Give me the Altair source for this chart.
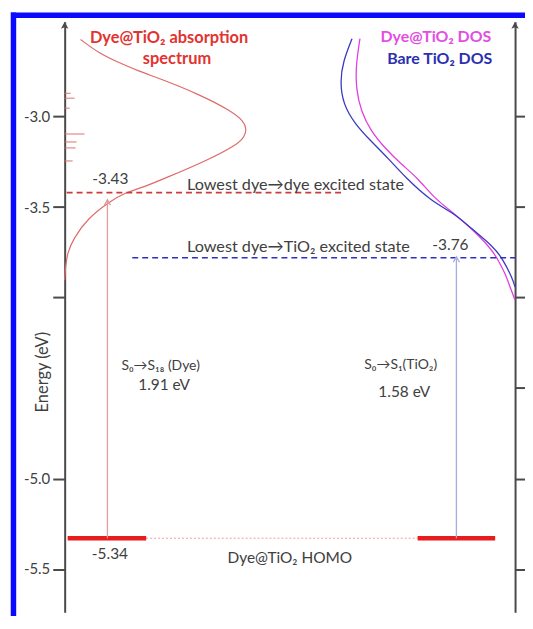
import altair as alt
import pandas as pd

# ---------------- data ----------------
E_DOMAIN = [-5.739, -2.4753]          # energy axis (eV)
X_DOMAIN = [0, 453]                   # horizontal position (a.u.)
TICKS_LEFT = [-3.0, -3.5, -4.0, -5.0, -5.5]
TICKS_RIGHT = [-3.0, -3.5, -4.0, -4.5, -5.0, -5.5]

# Dye@TiO2 absorption spectrum (intensity a.u. vs energy eV)
abs_int = [16, 35, 52, 75, 95, 135, 168, 180, 183, 181, 175, 142, 102, 78, 61, 45, 23, 9, 3, 1, 0]
abs_E = [-2.574, -2.651, -2.695, -2.750, -2.788, -2.876, -2.970, -3.025, -3.069, -3.107, -3.151,
         -3.245, -3.338, -3.393, -3.420, -3.470, -3.563, -3.673, -3.750, -3.821, -3.904]

# stick spectrum (oscillator strengths)
stick_E = [-2.871, -2.898, -2.953, -3.096, -3.140, -3.173, -3.245]
stick_f = [6, 10, 5, 20, 12, 11, 8]

# DOS curves
dos_dye_x = [297, 293, 293, 298, 308, 322, 338, 355, 372, 392, 408, 428, 435, 443, 448, 453]
dos_dye_E = [-2.569, -2.712, -2.843, -2.970, -3.080, -3.173, -3.261, -3.338, -3.453, -3.536,
             -3.613, -3.723, -3.783, -3.865, -3.942, -4.014]
dos_bare_x = [289, 280, 277, 280, 292, 308, 325, 343, 368, 392, 408, 432, 440, 450, 453]
dos_bare_E = [-2.569, -2.695, -2.805, -2.931, -3.041, -3.135, -3.228, -3.338, -3.464, -3.536,
              -3.613, -3.723, -3.783, -3.887, -3.942]

# energy levels
E_DYE = -3.42
E_TIO2 = -3.78
E_HOMO = -5.33

# level segments (x start, x end)
dye_dash = [2, 278]
tio2_dash = [68, 453]
homo_dot = [82, 355]
homo_bars_x1 = [3, 355]
homo_bars_x2 = [82, 433]

# transitions
arrow_x = [43, 394]
arrow_top = [-3.46, -3.775]
arrow_col = ["#e39a9a", "#a9a9e6"]

# annotations
t_bold_c = ["Dye@TiO\u2082 absorption", "spectrum"]
t_bold_c_x = [105, 113]
t_bold_c_E = [-2.567, -2.684]

t_bold_r = ["Dye@TiO\u2082 DOS", "Bare TiO\u2082 DOS"]
t_bold_r_x = [429, 430]
t_bold_r_E = [-2.558, -2.680]
t_bold_r_c = ["#e24fe0", "#2b2fb0"]

t_left = ["Lowest dye\u2192dye excited state", "Lowest dye\u2192TiO\u2082 excited state"]
t_left_x = [123, 123]
t_left_E = [-3.376, -3.721]

t_cen = ["-3.43", "-3.76", "1.91 eV", "1.58 eV", "-5.34", "Dye@TiO\u2082 HOMO"]
t_cen_x = [46, 388, 100, 341.5, 45.5, 226.5]
t_cen_E = [-3.343, -3.712, -4.481, -4.521, -5.415, -5.442]

t_trans = ["S\u2080\u2192S\u2081\u2088 (Dye)", "S\u2080\u2192S\u2081(TiO\u2082)"]
t_trans_x = [96.5, 338]
t_trans_E = [-4.380, -4.375]

FONT = "Lato"
GRAY = "#404040"
AXIS_C = "#4a4a4a"
FRAME_C = "#0a0aff"

xs = alt.Scale(domain=X_DOMAIN, nice=False, zero=False)
ys = alt.Scale(domain=E_DOMAIN, nice=False, zero=False)


def X(f="x"):
    return alt.X(f"{f}:Q", scale=xs, axis=None)


def Y(f="E", axis=None):
    return alt.Y(f"{f}:Q", scale=ys, axis=axis)


left_axis = alt.Axis(
    values=TICKS_LEFT, orient="left", grid=False,
    labelExpr="datum.value == -4 ? '' : '-' + format(-datum.value, '.1f')",
    tickSize=12, tickWidth=2, tickColor=AXIS_C, domainColor=AXIS_C, domainWidth=2,
    labelFont=FONT, labelFontSize=15, labelColor=GRAY, labelPadding=3,
    title="Energy (eV)", titleFont=FONT, titleFontSize=16.5, titleFontWeight="normal",
    titleColor=GRAY, titleX=-22, titleY=352, titleAlign="center", titleBaseline="middle",
    titleAngle=270,
)
right_axis = alt.Axis(
    values=TICKS_RIGHT, orient="right", grid=False, labels=False, title=None,
    tickSize=15, tickWidth=2, tickColor=AXIS_C, domainColor=AXIS_C, domainWidth=2,
)

# frame (left and top bands)
one = pd.DataFrame({"a": [0]})
frame_left = alt.Chart(one).mark_rule(color=FRAME_C, strokeWidth=5.5).encode(
    x=alt.value(-51.5), y=alt.value(-9.2), y2=alt.value(600))
frame_top = alt.Chart(one).mark_rule(color=FRAME_C, strokeWidth=5.5).encode(
    x=alt.value(-54), x2=alt.value(470), y=alt.value(-6.5))

# absorption
abs_df = pd.DataFrame({"x": abs_int, "E": abs_E, "i": range(len(abs_E))})
absorb = alt.Chart(abs_df).mark_line(color="#e06a6a", strokeWidth=1.2, interpolate="basis").encode(
    x=X(), y=Y(axis=left_axis), order="i:Q")

stick_df = pd.DataFrame({"x0": [0] * len(stick_E), "x": stick_f, "E": stick_E})
sticks = alt.Chart(stick_df).mark_rule(color="#e07070", strokeWidth=1).encode(
    x=X("x0"), x2="x:Q", y=Y())

# DOS
dd = pd.DataFrame({"x": dos_dye_x, "E": dos_dye_E, "i": range(len(dos_dye_E))})
dos_dye = alt.Chart(dd).mark_line(color="#e040e0", strokeWidth=1.3, interpolate="basis").encode(
    x=X(), y=Y(axis=right_axis), order="i:Q")
db = pd.DataFrame({"x": dos_bare_x, "E": dos_bare_E, "i": range(len(dos_bare_E))})
dos_bare = alt.Chart(db).mark_line(color="#3a3ac0", strokeWidth=1.3, interpolate="basis").encode(
    x=X(), y=Y(), order="i:Q")

# levels
lv = pd.DataFrame({"x": [dye_dash[0]], "x2": [dye_dash[1]], "E": [E_DYE]})
dye_line = alt.Chart(lv).mark_rule(color="#cc3b3b", strokeWidth=1.6, strokeDash=[6, 4]).encode(
    x=X(), x2="x2:Q", y=Y())
lt = pd.DataFrame({"x": [tio2_dash[0]], "x2": [tio2_dash[1]], "E": [E_TIO2]})
tio2_line = alt.Chart(lt).mark_rule(color="#2e2ec0", strokeWidth=1.6, strokeDash=[6, 4]).encode(
    x=X(), x2="x2:Q", y=Y())
lh = pd.DataFrame({"x": [homo_dot[0]], "x2": [homo_dot[1]], "E": [E_HOMO]})
homo_line = alt.Chart(lh).mark_rule(color="#ee9a9a", strokeWidth=1, strokeDash=[2, 2]).encode(
    x=X(), x2="x2:Q", y=Y())
hb = pd.DataFrame({"x": homo_bars_x1, "x2": homo_bars_x2, "E": [E_HOMO] * 2})
homo_bars = alt.Chart(hb).mark_rule(color="#e81c1c", strokeWidth=4.5).encode(
    x=X(), x2="x2:Q", y=Y())

# transitions
ar = pd.DataFrame({"x": arrow_x, "E0": [E_HOMO] * 2, "E": arrow_top, "c": arrow_col})
arrows = alt.Chart(ar).mark_rule(strokeWidth=1.3).encode(
    x=X(), y=Y("E0"), y2="E:Q", color=alt.Color("c:N", scale=None))
heads = alt.Chart(ar).mark_point(shape="M-1,1.7L0,0L1,1.7", size=40, filled=False, strokeWidth=1.3,
                                 opacity=1).encode(
    x=X(), y=Y(), color=alt.Color("c:N", scale=None))

# axis arrowheads
ah = pd.DataFrame({"x": [0, 453], "E": [E_DOMAIN[1], E_DOMAIN[1]]})
axis_heads = alt.Chart(ah).mark_point(shape="M0,0L-1,1.9L0,1.5L1,1.9Z", size=56, filled=True,
                                      color=AXIS_C, opacity=1).encode(x=X(), y=Y())

# texts
d1 = pd.DataFrame({"x": t_bold_c_x, "E": t_bold_c_E, "t": t_bold_c})
txt1 = alt.Chart(d1).mark_text(font=FONT, fontSize=16.5, fontWeight="bold", color="#e2332f",
                               align="center", baseline="middle").encode(x=X(), y=Y(), text="t:N")
d2 = pd.DataFrame({"x": t_bold_r_x, "E": t_bold_r_E, "t": t_bold_r, "c": t_bold_r_c})
txt2 = alt.Chart(d2).mark_text(font=FONT, fontSize=16, fontWeight="bold",
                               align="right", baseline="middle").encode(
    x=X(), y=Y(), text="t:N", color=alt.Color("c:N", scale=None))
d3 = pd.DataFrame({"x": t_left_x, "E": t_left_E, "t": t_left})
txt3 = alt.Chart(d3).mark_text(font=FONT, fontSize=16.3, color=GRAY,
                               align="left", baseline="middle").encode(x=X(), y=Y(), text="t:N")
d4 = pd.DataFrame({"x": t_cen_x, "E": t_cen_E, "t": t_cen})
txt4 = alt.Chart(d4).mark_text(font=FONT, fontSize=15.5, color=GRAY,
                               align="center", baseline="middle").encode(x=X(), y=Y(), text="t:N")
d5 = pd.DataFrame({"x": t_trans_x, "E": t_trans_E, "t": t_trans})
txt5 = alt.Chart(d5).mark_text(font=FONT, fontSize=14, color=GRAY,
                               align="center", baseline="middle").encode(x=X(), y=Y(), text="t:N")

chart = alt.layer(
    frame_left, frame_top, absorb, sticks, dos_dye, dos_bare, dye_line, tio2_line, homo_line,
    homo_bars, arrows, heads, axis_heads, txt1, txt2, txt3, txt4, txt5
).resolve_axis(y="independent").properties(
    width=453, height=594,
    padding={"left": 57, "top": 12, "right": 10, "bottom": 2},
    autosize=alt.AutoSizeParams(type="none"),
).configure_view(stroke=None)

chart.save("out.html", embed_options={"renderer": "svg", "actions": False})
